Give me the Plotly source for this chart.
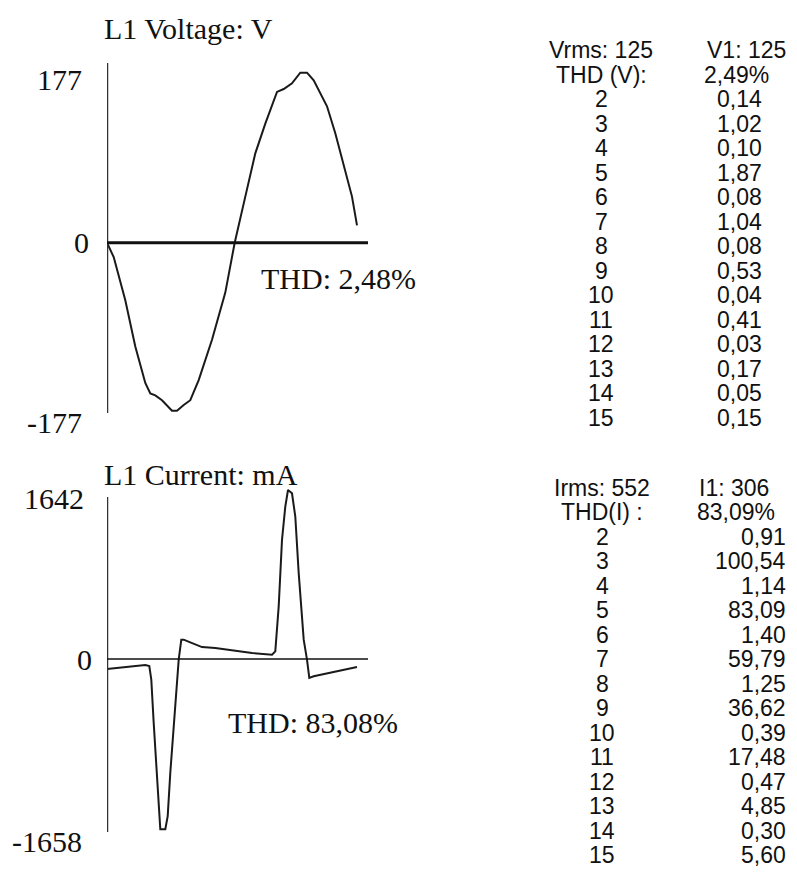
import plotly.graph_objects as go

# ---------------- data ----------------
# Voltage waveform (sample position, volts)
v_t = [0, 6.7, 18.3, 28.3, 38.3, 43.3, 48.3, 55, 65, 70, 76.7, 83.3, 91.7, 105, 118.3,
       127.7, 138.3, 148.3, 158.3, 170, 176.7, 185, 193.3, 200, 206.7, 220, 228.3, 238.3, 245, 250]
v_val = [0, -15, -60, -108, -146, -157, -159, -164, -175, -175, -169, -164, -143, -101, -52,
         0, 48, 93, 124, 157, 160, 166, 177, 177, 169, 142, 114, 76, 48, 18]

# Current waveform (sample position, mA)
i_t = [0, 18.3, 38.3, 42.3, 44.3, 46.7, 50, 53.3, 58.3, 60.7, 63.3, 66.7, 71.7, 74.3, 76.7,
       83.3, 95, 108.3, 125, 145, 165, 168.3, 171.7, 175, 178.3, 181, 185, 188.3, 191.7,
       196.7, 200, 202.3, 206.7, 231.7, 250]
i_val = [-97, -81, -58, -68, -201, -621, -1106, -1656, -1656, -1527, -1106, -621, -6, 188, 188,
         162, 116, 107, 84, 58, 42, 74, 511, 1158, 1482, 1643, 1611, 1385, 835,
         188, -6, -184, -168, -120, -78]

v_axis_labels = ["177", "0", "-177"]
v_axis_values = [177, 0, -177]
i_axis_labels = ["1642", "0", "-1658"]
i_axis_values = [1643, 0, -1656]

v_title = "L1 Voltage: V"
i_title = "L1 Current: mA"
v_wave_thd = 2.48
i_wave_thd = 83.08

harm_orders = list(range(2, 16))
v_rms, v1, v_thd = 125, 125, 2.49
v_harm = [0.14, 1.02, 0.10, 1.87, 0.08, 1.04, 0.08, 0.53, 0.04, 0.41, 0.03, 0.17, 0.05, 0.15]
i_rms, i1, i_thd = 552, 306, 83.09
i_harm = [0.91, 100.54, 1.14, 83.09, 1.40, 59.79, 1.25, 36.62, 0.39, 17.48, 0.47, 4.85, 0.30, 5.60]

# ---------------- layout helpers ----------------
PAGE_W, PAGE_H = 797, 887
OFF = 8  # default page body margin
W, H = PAGE_W - 2 * OFF, PAGE_H - 2 * OFF
def px(x):
    return (x - OFF) / W
def py(y):
    return 1 - (y - OFF) / H
def comma(v):
    return f"{v:.2f}".replace(".", ",")

SERIF = "Liberation Serif"
SANS = "Liberation Sans"

fig = go.Figure()
fig.add_trace(go.Scatter(x=v_t, y=v_val, mode="lines", xaxis="x", yaxis="y",
                         line=dict(color="#1a1a1a", width=2), showlegend=False, hoverinfo="skip"))
fig.add_trace(go.Scatter(x=i_t, y=i_val, mode="lines", xaxis="x2", yaxis="y2",
                         line=dict(color="#1a1a1a", width=2), showlegend=False, hoverinfo="skip"))

# axis geometry (pixels)
x_left, x_right = 107, 368
xr = [0, 261]
# voltage
v_zero_px, v_peak_px = 242.7, 72.7
v_s = (v_zero_px - v_peak_px) / 177
v_dom = (55, 420)
v_range = [(v_zero_px - v_dom[1]) / v_s, (v_zero_px - v_dom[0]) / v_s]
# current
i_zero_px, i_peak_px = 659, 490
i_s = (i_zero_px - i_peak_px) / 1643
i_dom = (480, 845)
i_range = [(i_zero_px - i_dom[1]) / i_s, (i_zero_px - i_dom[0]) / i_s]

hidden = dict(visible=False, showgrid=False, zeroline=False, fixedrange=True)
fig.update_layout(
    width=W, height=H, margin=dict(l=0, r=0, t=0, b=0),
    paper_bgcolor="white", plot_bgcolor="white",
    xaxis=dict(domain=[px(x_left), px(x_right)], range=xr, **hidden),
    yaxis=dict(domain=[py(v_dom[1]), py(v_dom[0])], range=v_range, **hidden),
    xaxis2=dict(domain=[px(x_left), px(x_right)], range=xr, anchor="y2", **hidden),
    yaxis2=dict(domain=[py(i_dom[1]), py(i_dom[0])], range=i_range, anchor="x2", **hidden),
)

shapes = []
# vertical axis lines
shapes.append(dict(type="line", xref="x", yref="paper", x0=0, x1=0, y0=py(413), y1=py(63),
                   line=dict(color="#333333", width=2.5)))
shapes.append(dict(type="line", xref="x2", yref="paper", x0=0, x1=0, y0=py(832), y1=py(497),
                   line=dict(color="#333333", width=2.5)))
# zero lines
shapes.append(dict(type="line", xref="x", yref="y", x0=0, x1=xr[1], y0=0, y1=0,
                   line=dict(color="#111111", width=3)))
shapes.append(dict(type="line", xref="x2", yref="y2", x0=0, x1=xr[1], y0=0, y1=0,
                   line=dict(color="#111111", width=1.6)))
fig.update_layout(shapes=shapes)

ann = []
serif_font = dict(family=SERIF, size=30, color="#111111")
sans_font = dict(family=SANS, size=23, color="#111111")

# titles
ann.append(dict(text=v_title, xref="paper", yref="paper", x=px(102), y=py(29),
                xanchor="left", yanchor="middle", showarrow=False, font=serif_font))
ann.append(dict(text=i_title, xref="paper", yref="paper", x=px(102), y=py(474),
                xanchor="left", yanchor="middle", showarrow=False, font=serif_font))

# axis labels
v_shift = [-7, 0, -10]
v_right = [84, 91, 84]
for lab, val, sh, r in zip(v_axis_labels, v_axis_values, v_shift, v_right):
    ann.append(dict(text=lab, xref="paper", yref="y", x=px(r), y=val, yshift=sh,
                    xanchor="right", yanchor="middle", showarrow=False, font=serif_font))
i_shift = [-8, 0, -12]
i_right = [86, 94, 84]
for lab, val, sh, r in zip(i_axis_labels, i_axis_values, i_shift, i_right):
    ann.append(dict(text=lab, xref="paper", yref="y2", x=px(r), y=val, yshift=sh,
                    xanchor="right", yanchor="middle", showarrow=False, font=serif_font))

# THD labels on plots
ann.append(dict(text=f"THD: {comma(v_wave_thd)}%", xref="paper", yref="paper", x=px(259), y=py(278),
                xanchor="left", yanchor="middle", showarrow=False, font=serif_font))
ann.append(dict(text=f"THD: {comma(i_wave_thd)}%", xref="paper", yref="paper", x=px(226), y=py(722),
                xanchor="left", yanchor="middle", showarrow=False, font=serif_font))

# tables
def table(y0, pitch, left_c, head_l, val_x_right, rms_label, h1_label, thd_label, thd_val, vals, head_r2):
    ann.append(dict(text=rms_label, xref="paper", yref="paper", x=px(left_c), y=py(y0),
                    xanchor="center", yanchor="middle", showarrow=False, font=sans_font))
    ann.append(dict(text=thd_label, xref="paper", yref="paper", x=px(left_c), y=py(y0 + pitch),
                    xanchor="center", yanchor="middle", showarrow=False, font=sans_font))
    ann.append(dict(text=h1_label, xref="paper", yref="paper", x=px(head_l), y=py(y0),
                    xanchor="left", yanchor="middle", showarrow=False, font=sans_font))
    ann.append(dict(text=f"{comma(thd_val)}%", xref="paper", yref="paper", x=px(head_r2), y=py(y0 + pitch),
                    xanchor="left", yanchor="middle", showarrow=False, font=sans_font))
    for k, v in zip(harm_orders, vals):
        yy = y0 + pitch * k
        ann.append(dict(text=str(k), xref="paper", yref="paper", x=px(left_c), y=py(yy),
                        xanchor="center", yanchor="middle", showarrow=False, font=sans_font))
        ann.append(dict(text=comma(v), xref="paper", yref="paper", x=px(val_x_right), y=py(yy),
                        xanchor="right", yanchor="middle", showarrow=False, font=sans_font))

table(50, 24.53, 601, 705, 764, f"Vrms: {v_rms}", f"V1: {v1}", "THD (V):", v_thd, v_harm, 702)
table(488, 24.47, 602, 697, 788, f"Irms: {i_rms}", f"I1: {i1}", "THD(I) :", i_thd, i_harm, 695)

fig.update_layout(annotations=ann)
fig.write_html("out.html")
